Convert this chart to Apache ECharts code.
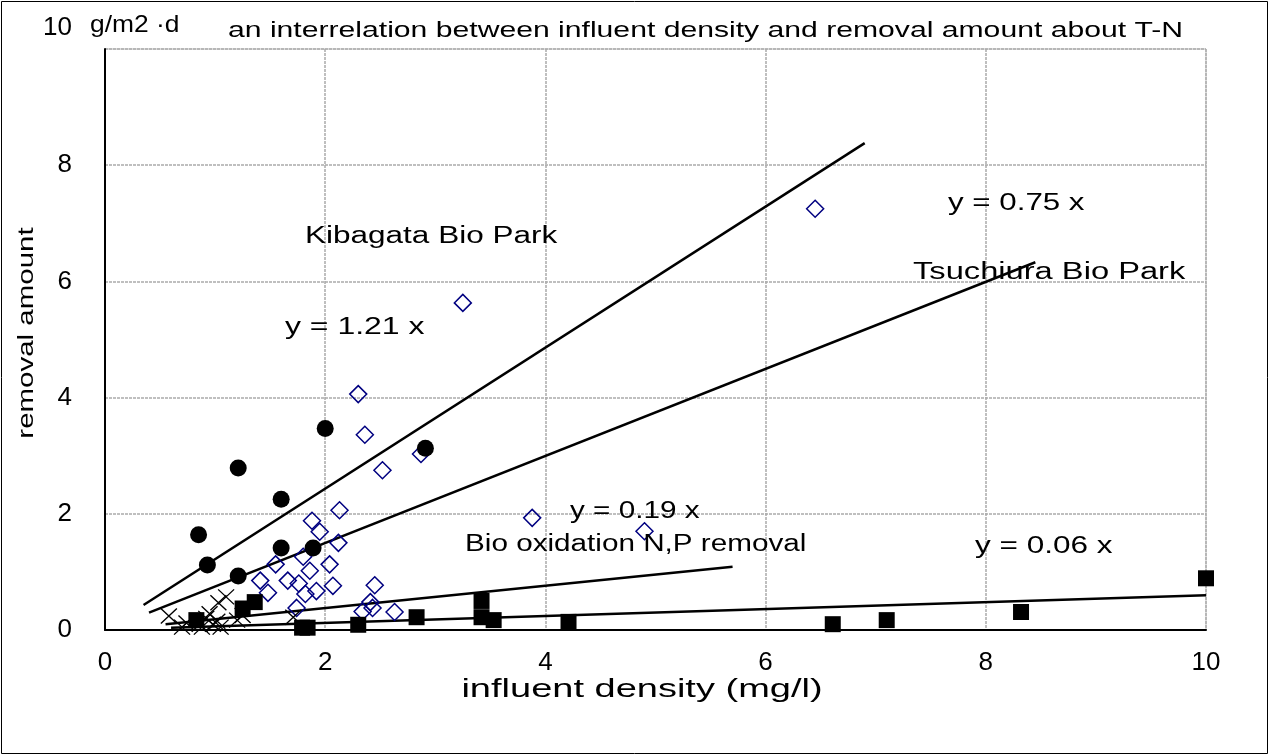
<!DOCTYPE html>
<html><head><meta charset="utf-8">
<script src="https://cdn.jsdelivr.net/npm/echarts@6/dist/echarts.min.js"></script>
<style>html,body{margin:0;padding:0;background:#fff}#c{width:1270px;height:756px}</style>
</head><body><div id="c"></div>
<script>
// ---- data ----
const xTicks = [0, 2, 4, 6, 8, 10];
const yTicks = [0, 2, 4, 6, 8, 10];

// Kibagata Bio Park (filled circles)
const kibagata = [[0.85,1.64],[0.93,1.12],[1.21,2.79],[1.21,0.93],[1.60,2.25],[1.60,1.41],[1.89,1.41],[2.00,3.47],[2.91,3.13]];
// Tsuchiura Bio Park (open diamonds)
const tsuchiura = [[6.45,7.25],[3.25,5.63],[2.30,4.06],[2.36,3.36],[2.52,2.75],[2.87,3.03],[3.88,1.93],[4.90,1.70],
  [2.13,2.06],[1.88,1.88],[1.95,1.69],[2.12,1.50],[1.80,1.26],[2.04,1.13],[1.55,1.13],[1.86,1.02],[1.41,0.85],
  [1.66,0.85],[1.76,0.80],[2.07,0.76],[2.45,0.77],[1.48,0.64],[1.92,0.67],[1.82,0.62],[2.41,0.48],[2.43,0.38],
  [2.34,0.32],[2.63,0.31],[1.74,0.38]];
// Bio oxidation N,P removal (crosses)
const bioOx = [[0.58,0.24],[0.74,0.12],[0.70,0.05],[0.86,0.10],[0.92,0.20],[0.95,0.28],[0.98,0.10],[1.02,0.15],
  [1.03,0.47],[1.10,0.57],[1.20,0.17],[1.25,0.25],[1.71,0.22],[0.88,0.05],[1.05,0.05]];
// other plants (filled squares)
const others = [[0.83,0.17],[1.25,0.37],[1.36,0.48],[1.79,0.04],[1.84,0.04],[2.30,0.09],[2.83,0.22],[3.42,0.50],
  [3.42,0.22],[3.53,0.17],[4.21,0.14],[6.61,0.10],[7.10,0.17],[8.32,0.31],[10.0,0.89]];

// regression lines (end points)
const lineKibagata = [[0.35,0.43],[6.90,8.38]];   // y = 1.21 x
const lineTsuchiura = [[0.40,0.30],[8.45,6.33]];  // y = 0.75 x
const lineBioOx = [[0.55,0.10],[5.70,1.09]];      // y = 0.19 x
const lineOthers = [[0.60,0.04],[10.0,0.60]];     // y = 0.06 x

// ---- texts ----
const titleText = 'an interrelation between influent density and removal amount about T-N';
const unitText = 'g/m2 ·d';
const xName = 'influent density (mg/l)';
const yName = 'removal amount';
const annotationTexts = ['Kibagata Bio Park','y = 1.21 x','y = 0.75 x','Tsuchiura Bio Park','y = 0.19 x','Bio oxidation N,P removal','y = 0.06 x'];

// ---- layout (pixel placement of the free texts) ----
const annLayout = [
  {x:305, y:237, sx:1.37},
  {x:285, y:328, sx:1.39},
  {x:948, y:204, sx:1.36},
  {x:913, y:273, sx:1.42},
  {x:570, y:512, sx:1.29},
  {x:465, y:545, sx:1.29},
  {x:975, y:547, sx:1.37}
];

const FONT = "'Liberation Sans',Arial,sans-serif";
const chart = echarts.init(document.getElementById('c'), null, {renderer:'canvas'});

function lineSeries(name, data){
  return {name, type:'line', data, symbol:'none', silent:true, z:2,
    lineStyle:{color:'#000', width:2.5}};
}
const crossPath = 'path://M0,0L10,10M10,0L0,10';

const graphics = [
  {type:'rect', shape:{x:1.5,y:1.5,width:1266,height:752}, style:{fill:'none', stroke:'#000', lineWidth:1}, z:-1},
  {type:'text', x:90, y:25, scaleX:1.1, style:{text:unitText, font:"24px "+FONT, fill:'#000', verticalAlign:'middle'}},
  {type:'text', x:228, y:31, scaleX:1.37, style:{text:titleText, font:"22px "+FONT, fill:'#000', verticalAlign:'middle'}},
  {type:'text', x:642, y:690, scaleX:1.52, style:{text:xName, font:"25px "+FONT, fill:'#000', align:'center', verticalAlign:'middle'}},
  {type:'text', x:27, y:333, rotation:Math.PI/2, scaleX:1.34, style:{text:yName, font:"22px "+FONT, fill:'#000', align:'center', verticalAlign:'middle'}}
];
annotationTexts.forEach((t,i)=>{
  const L = annLayout[i];
  graphics.push({type:'text', x:L.x, y:L.y, scaleX:L.sx, z:10,
    style:{text:t, font:"23px "+FONT, fill:'#000', verticalAlign:'middle', align:'left'}});
});

chart.setOption({
  backgroundColor:'#fff',
  animation:false,
  grid:{left:105, right:64, top:49, bottom:126, containLabel:false,
    show:true, borderColor:'#bbb', borderWidth:1},
  xAxis:{type:'value', min:xTicks[0], max:xTicks[xTicks.length-1], interval:2,
    axisLine:{lineStyle:{color:'#000', width:2}}, axisTick:{show:false},
    axisLabel:{fontFamily:FONT, fontSize:26, color:'#000', margin:20},
    splitLine:{show:true, lineStyle:{color:'#aaa', width:1.5, type:[3,1]}}},
  yAxis:{type:'value', min:yTicks[0], max:yTicks[yTicks.length-1], interval:2,
    axisLine:{show:true, lineStyle:{color:'#000', width:2}}, axisTick:{show:false},
    axisLabel:{fontFamily:FONT, fontSize:26, color:'#000', margin:33,
      formatter:v=> v===10 ? '{t|10}' : String(v),
      rich:{t:{fontFamily:FONT, fontSize:26, padding:[0,0,42,0]}}},
    splitLine:{show:true, lineStyle:{color:'#aaa', width:1.5, type:[3,1]}}},
  graphic:graphics,
  series:[
    lineSeries('y = 1.21 x', lineKibagata),
    lineSeries('y = 0.75 x', lineTsuchiura),
    lineSeries('y = 0.19 x', lineBioOx),
    lineSeries('y = 0.06 x', lineOthers),
    {name:'Tsuchiura Bio Park', type:'scatter', data:tsuchiura, symbol:'diamond', symbolSize:17, z:3,
      itemStyle:{color:'rgba(0,0,0,0)', borderColor:'#000080', borderWidth:1.5, opacity:1}},
    {name:'Bio oxidation N,P removal', type:'scatter', data:bioOx, symbol:crossPath, symbolSize:[16,15], z:3,
      itemStyle:{color:'rgba(0,0,0,0)', borderColor:'#000', borderWidth:1.3, opacity:1}},
    {name:'Kibagata Bio Park', type:'scatter', data:kibagata, symbol:'circle', symbolSize:17, z:4,
      itemStyle:{color:'#000', opacity:1}},
    {name:'others', type:'scatter', data:others, symbol:'rect', symbolSize:16, z:4,
      itemStyle:{color:'#000', opacity:1}}
  ]
});
</script></body></html>
